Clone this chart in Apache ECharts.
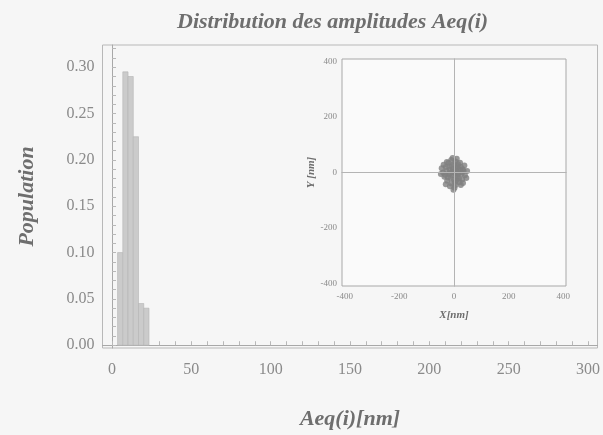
<!DOCTYPE html>
<html>
<head>
<meta charset="utf-8">
<script src="https://cdn.jsdelivr.net/npm/echarts@6/dist/echarts.min.js"></script>
<style>
  html, body { margin: 0; padding: 0; background: #f6f6f6; }
  #main { width: 603px; height: 435px; }
</style>
</head>
<body>
<div id="main"></div>
<script>
// histogramme : bords des classes (nm) et population de chaque classe
var binEdges = [3.5, 6.8, 10.1, 13.4, 16.7, 20.0, 23.3];
var population = [0.10, 0.295, 0.29, 0.225, 0.045, 0.04];

// graduations
var xTickLabels = [0, 50, 100, 150, 200, 250, 300];
var yTickLabels = [0, 0.05, 0.10, 0.15, 0.20, 0.25, 0.30];
var insetTickLabels = [-400, -200, 0, 200, 400];

// encart : positions X, Y (nm)
var posX = [-30, -20, -10, 5, 15, 25, 35, 40, 30, 20, 5, -10, -25, -35, -40, -45, -15, 0, 10, -5,
            12, -20, 20, -8, 8, 28, -28, 0, 0, 15, -12, 18, -18, 32, -32, 45, -3, 6, 22, -26,
            10, -15, 38, -38, 48, -48, 2, -5, 25, -30, 14, -22, 3, -6, 9, 26, -14, 33, -2, 4];
var posY = [20, 35, 45, 40, 30, 20, 5, -10, -25, -35, -45, -40, -30, -15, 0, 15, 10, 0, 5, -10,
            -15, -5, 10, 25, 18, -5, 5, 30, -25, -5, -20, -22, 22, 12, -8, -20, 12, -5, 35, 38,
            50, -50, 25, 28, 5, -5, -55, 52, -45, -42, 22, -18, -35, 3, -28, 2, -2, -38, -62, 8];

var myChart = echarts.init(document.getElementById('main'));

var serif = 'Liberation Serif';
var scatterData = [];
for (var i = 0; i < posX.length; i++) {
    scatterData.push([posX[i], posY[i]]);
}
var histData = [];
for (var j = 0; j < population.length; j++) {
    histData.push([binEdges[j], binEdges[j + 1], population[j]]);
}
// petites graduations
var xMinor = [];
for (var a = 0; a <= 300; a += 10) xMinor.push(a);
var yMinor = [];
for (var b = 0; b <= 32; b += 1) yMinor.push(b / 100);

var option = {
    backgroundColor: '#f6f6f6',
    animation: false,
    title: {
        text: 'Distribution des amplitudes Aeq(i)',
        left: 172,
        top: 6,
        textStyle: { fontFamily: serif, fontSize: 22, fontStyle: 'italic', fontWeight: 'bold', color: '#6e6e6e' }
    },
    grid: [
        // graphique principal
        { left: 102.5, right: 5, top: 45, bottom: 87, show: true, borderColor: '#b8b8b8', borderWidth: 1, backgroundColor: 'transparent' },
        // encart
        { left: 342, top: 59, width: 224, height: 227, show: true, borderColor: '#a8a8a8', borderWidth: 1, backgroundColor: '#fafafa' }
    ],
    xAxis: [
        {
            gridIndex: 0,
            type: 'value',
            min: -6,
            max: 306,
            name: 'Aeq(i)[nm]',
            nameLocation: 'middle',
            nameGap: 60,
            nameTextStyle: { fontFamily: serif, fontSize: 22, fontStyle: 'italic', fontWeight: 'bold', color: '#6e6e6e' },
            axisLine: { lineStyle: { color: '#a8a8a8' } },
            axisTick: { inside: true, length: 4, customValues: xMinor, lineStyle: { color: '#b8b8b8' } },
            axisLabel: { customValues: xTickLabels, fontFamily: serif, fontSize: 16, color: '#8a8a8a', margin: 14 },
            splitLine: { show: false }
        },
        {
            gridIndex: 1,
            type: 'value',
            min: -410,
            max: 410,
            name: 'X[nm]',
            nameLocation: 'middle',
            nameGap: 24,
            nameTextStyle: { fontFamily: serif, fontSize: 11, fontStyle: 'italic', fontWeight: 'bold', color: '#6e6e6e' },
            axisLine: { lineStyle: { color: '#a8a8a8' } },
            axisTick: { show: false },
            axisLabel: { customValues: insetTickLabels, fontFamily: serif, fontSize: 9, color: '#8a8a8a', margin: 6 },
            splitLine: { show: false }
        }
    ],
    yAxis: [
        {
            gridIndex: 0,
            type: 'value',
            min: -0.003,
            max: 0.324,
            name: 'Population',
            nameLocation: 'middle',
            nameGap: 64,
            nameRotate: 90,
            nameTextStyle: { fontFamily: serif, fontSize: 22, fontStyle: 'italic', fontWeight: 'bold', color: '#6e6e6e' },
            axisLine: { lineStyle: { color: '#a8a8a8' } },
            axisTick: { inside: true, length: 4, customValues: yMinor, lineStyle: { color: '#b8b8b8' } },
            axisLabel: {
                customValues: yTickLabels,
                fontFamily: serif, fontSize: 16, color: '#8a8a8a', margin: 8,
                formatter: function (v) { return v.toFixed(2); }
            },
            splitLine: { show: false }
        },
        {
            gridIndex: 1,
            type: 'value',
            min: -410,
            max: 410,
            name: 'Y [nm]',
            nameLocation: 'middle',
            nameGap: 24,
            nameRotate: 90,
            nameTextStyle: { fontFamily: serif, fontSize: 11, fontStyle: 'italic', fontWeight: 'bold', color: '#6e6e6e' },
            axisLine: { lineStyle: { color: '#a8a8a8' } },
            axisTick: { show: false },
            axisLabel: { customValues: insetTickLabels, fontFamily: serif, fontSize: 9, color: '#8a8a8a', margin: 5 },
            splitLine: { show: false }
        }
    ],
    series: [
        {
            // histogramme des amplitudes
            type: 'custom',
            xAxisIndex: 0,
            yAxisIndex: 0,
            data: histData,
            renderItem: function (params, api) {
                var p0 = api.coord([api.value(0), 0]);
                var p1 = api.coord([api.value(1), api.value(2)]);
                return {
                    type: 'rect',
                    shape: { x: p0[0], y: p1[1], width: p1[0] - p0[0], height: p0[1] - p1[1] },
                    style: { fill: '#cbcbcb', stroke: '#b4b4b4', lineWidth: 0.6 }
                };
            }
        },
        {
            // positions dans l'encart
            type: 'scatter',
            xAxisIndex: 1,
            yAxisIndex: 1,
            data: scatterData,
            symbolSize: 6,
            itemStyle: { color: '#808080' },
            markLine: {
                silent: true,
                symbol: 'none',
                label: { show: false },
                lineStyle: { color: '#b4b4b4', type: 'solid', width: 1 },
                data: [{ xAxis: 0 }, { yAxis: 0 }]
            }
        }
    ]
};

myChart.setOption(option);
</script>
</body>
</html>
